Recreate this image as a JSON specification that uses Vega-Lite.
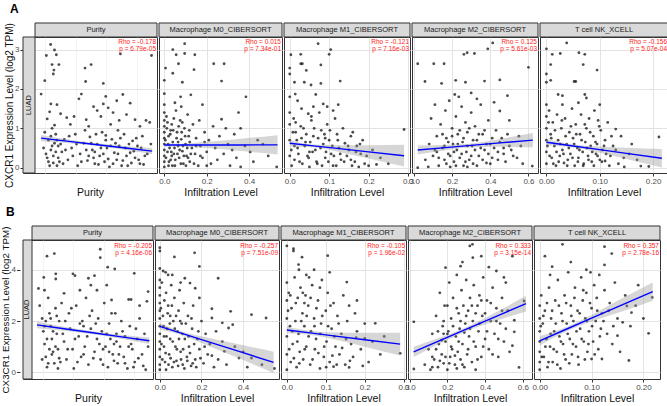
{
  "$schema": "https://vega.github.io/schema/vega-lite/v6.json",
  "background": "white",
  "padding": {"left": 0, "top": 2, "right": 0, "bottom": 0},
  "config": {
    "font": "Liberation Sans",
    "view": {"stroke": "#333333", "strokeWidth": 1},
    "axis": {"domain": false, "labelFontSize": 8, "labelColor": "#4d4d4d", "labelPadding": 1, "tickColor": "#333333", "tickSize": 3, "titleFontSize": 10.5, "titleFontWeight": "normal", "titleColor": "#111111", "titlePadding": 2, "labelFlush": false, "labelOverlap": false, "gridColor": "#e5e5e5"},
    "title": {"anchor": "start", "fontSize": 12, "fontWeight": "bold", "color": "#000000", "dx": 6}
  },
  "datasets": {
    "a1": [{"x":0.168,"y":3.13},{"x":0.133,"y":2.85},{"x":0.2,"y":2.99},{"x":0.215,"y":2.87},{"x":0.18,"y":2.62},{"x":0.195,"y":2.48},{"x":0.19,"y":2.38},{"x":0.236,"y":2.62},{"x":0.12,"y":2.21},{"x":0.09,"y":1.87},{"x":0.45,"y":2.53},{"x":0.455,"y":2.19},{"x":0.5,"y":2.62},{"x":0.6,"y":2.14},{"x":0.74,"y":2.89},{"x":0.995,"y":2.85},{"x":0.4,"y":1.75},{"x":0.42,"y":1.87},{"x":0.62,"y":1.81},{"x":0.76,"y":1.86},{"x":0.82,"y":1.64},{"x":0.71,"y":1.7},
      {"x":0.17,"y":1.62},{"x":0.22,"y":1.6},{"x":0.16,"y":1.42},{"x":0.14,"y":1.24},{"x":0.25,"y":1.37},{"x":0.3,"y":1.27},{"x":0.36,"y":1.3},{"x":0.46,"y":1.22},{"x":0.52,"y":1.55},{"x":0.55,"y":1.45},{"x":0.58,"y":1.3},{"x":0.64,"y":1.52},{"x":0.68,"y":1.4},{"x":0.73,"y":1.2},{"x":0.79,"y":1.35},{"x":0.86,"y":1.22},{"x":0.95,"y":1.2},{"x":0.98,"y":1.15},{"x":0.9,"y":1.05},{"x":0.66,"y":1.1},{"x":0.33,"y":1.1},{"x":0.2,"y":1.08},{"x":0.18,"y":1.0},{"x":0.6,"y":1.62},{"x":0.48,"y":1.05},
      {"x":0.12,"y":0.9},{"x":0.15,"y":0.7},{"x":0.17,"y":0.45},{"x":0.19,"y":0.3},{"x":0.21,"y":0.85},{"x":0.23,"y":0.55},{"x":0.24,"y":0.15},{"x":0.26,"y":0.4},{"x":0.16,"y":0.05},{"x":0.14,"y":0.25},{"x":0.2,"y":0.62},{"x":0.28,"y":0.72},{"x":0.31,"y":0.2},{"x":0.34,"y":0.5},{"x":0.37,"y":0.85},{"x":0.39,"y":0.05},{"x":0.41,"y":0.35},{"x":0.44,"y":0.62},{"x":0.47,"y":0.18},{"x":0.49,"y":0.78},{"x":0.51,"y":0.45},{"x":0.53,"y":0.1},{"x":0.55,"y":0.6},{"x":0.57,"y":0.3},{"x":0.59,"y":0.9},{"x":0.61,"y":0.15},{"x":0.63,"y":0.5},{"x":0.65,"y":0.02},{"x":0.67,"y":0.72},{"x":0.69,"y":0.38},{"x":0.71,"y":0.2},{"x":0.73,"y":0.55},{"x":0.75,"y":0.05},{"x":0.77,"y":0.85},{"x":0.79,"y":0.3},{"x":0.81,"y":0.6},{"x":0.83,"y":0.12},{"x":0.85,"y":0.42},{"x":0.87,"y":0.75},{"x":0.89,"y":0.2},{"x":0.91,"y":0.5},{"x":0.93,"y":0.08},{"x":0.96,"y":0.35},{"x":0.99,"y":0.6},{"x":0.11,"y":0.5},{"x":0.22,"y":0.05},{"x":0.45,"y":0.95},{"x":0.62,"y":0.82},{"x":0.72,"y":0.95},{"x":0.52,"y":0.25},
      {"x":0.13,"y":0.35},{"x":0.15,"y":0.15},{"x":0.17,"y":0.8},{"x":0.18,"y":0.55},{"x":0.19,"y":0.12},{"x":0.21,"y":0.4},{"x":0.22,"y":0.7},{"x":0.23,"y":0.25},{"x":0.25,"y":0.6},{"x":0.27,"y":0.1},{"x":0.29,"y":0.45},{"x":0.32,"y":0.8},{"x":0.35,"y":0.3},{"x":0.38,"y":0.6},{"x":0.42,"y":0.15},{"x":0.46,"y":0.45},{"x":0.48,"y":0.3},{"x":0.5,"y":0.62},{"x":0.53,"y":0.4},{"x":0.54,"y":0.85},{"x":0.56,"y":0.08},{"x":0.58,"y":0.5},{"x":0.6,"y":0.35},{"x":0.62,"y":0.7},{"x":0.64,"y":0.22},{"x":0.66,"y":0.55},{"x":0.68,"y":0.1},{"x":0.7,"y":0.62},{"x":0.72,"y":0.35},{"x":0.74,"y":0.75},{"x":0.76,"y":0.18},{"x":0.78,"y":0.5},{"x":0.8,"y":0.05},{"x":0.82,"y":0.38},{"x":0.84,"y":0.68},{"x":0.86,"y":0.25},{"x":0.88,"y":0.55},{"x":0.9,"y":0.1},{"x":0.92,"y":0.8},{"x":0.94,"y":0.3}],
    "a2": [{"x":0.096,"y":3.15},{"x":0.04,"y":3.0},{"x":0.056,"y":2.87},{"x":0.096,"y":2.9},{"x":0.144,"y":2.87},{"x":0.067,"y":2.64},{"x":0.006,"y":2.53},{"x":0.04,"y":2.4},{"x":0.085,"y":2.17},{"x":0.0,"y":2.22},{"x":0.14,"y":2.49},{"x":0.233,"y":2.64},{"x":0.282,"y":2.64},{"x":0.27,"y":2.2},{"x":0.385,"y":1.8},{"x":0.0,"y":1.88},{"x":0.077,"y":1.8},{"x":0.125,"y":1.85},{"x":0.18,"y":1.6},{"x":0.35,"y":1.4},{"x":0.27,"y":1.23},{"x":0.36,"y":1.0},{"x":0.29,"y":1.0},{"x":0.33,"y":0.85},{"x":0.465,"y":0.6},{"x":0.49,"y":0.3},{"x":0.53,"y":0.02},{"x":0.405,"y":0.4},{"x":0.36,"y":0.02},
      {"x":0,"y":1.6},{"x":0,"y":1.4},{"x":0,"y":1.2},{"x":0,"y":1.05},{"x":0,"y":0.9},{"x":0,"y":0.75},{"x":0,"y":0.6},{"x":0,"y":0.45},{"x":0,"y":0.3},{"x":0,"y":0.15},{"x":0,"y":0.02},
      {"x":0.01,"y":1.3},{"x":0.02,"y":0.8},{"x":0.025,"y":0.5},{"x":0.03,"y":0.2},{"x":0.035,"y":1.1},{"x":0.04,"y":0.65},{"x":0.045,"y":0.35},{"x":0.05,"y":0.05},{"x":0.055,"y":1.45},{"x":0.06,"y":0.9},{"x":0.065,"y":0.55},{"x":0.07,"y":0.25},{"x":0.075,"y":1.2},{"x":0.08,"y":0.72},{"x":0.085,"y":0.42},{"x":0.09,"y":0.1},{"x":0.095,"y":1.0},{"x":0.1,"y":0.6},{"x":0.105,"y":0.3},{"x":0.11,"y":1.35},{"x":0.115,"y":0.8},{"x":0.12,"y":0.15},{"x":0.13,"y":0.5},{"x":0.135,"y":1.1},{"x":0.145,"y":0.35},{"x":0.15,"y":0.75},{"x":0.16,"y":0.05},{"x":0.165,"y":1.2},{"x":0.17,"y":0.55},{"x":0.18,"y":0.25},{"x":0.19,"y":0.9},{"x":0.2,"y":0.4},{"x":0.21,"y":0.7},{"x":0.22,"y":0.1},{"x":0.23,"y":1.05},{"x":0.24,"y":0.5},{"x":0.25,"y":0.2},{"x":0.26,"y":0.8},{"x":0.28,"y":0.35},{"x":0.3,"y":0.6},{"x":0.31,"y":0.05},{"x":0.32,"y":0.45},{"x":0.34,"y":0.25},{"x":0.38,"y":0.55},{"x":0.42,"y":0.15},{"x":0.44,"y":0.7},{"x":0.015,"y":0.4},{"x":0.05,"y":1.65},{"x":0.03,"y":0.95},{"x":0.12,"y":0.65},{"x":0.08,"y":1.55},{"x":0.02,"y":0.05},
      {"x":0.005,"y":0.7},{"x":0.008,"y":0.25},{"x":0.012,"y":1.0},{"x":0.018,"y":0.6},{"x":0.022,"y":0.15},{"x":0.028,"y":0.85},{"x":0.033,"y":0.4},{"x":0.038,"y":0.05},{"x":0.042,"y":0.95},{"x":0.048,"y":0.5},{"x":0.052,"y":0.2},{"x":0.058,"y":0.75},{"x":0.062,"y":0.35},{"x":0.068,"y":1.05},{"x":0.072,"y":0.45},{"x":0.078,"y":0.1},{"x":0.082,"y":0.9},{"x":0.088,"y":0.55},{"x":0.092,"y":0.3},{"x":0.098,"y":0.8},{"x":0.102,"y":0.05},{"x":0.108,"y":0.5},{"x":0.112,"y":0.25},{"x":0.118,"y":0.95},{"x":0.125,"y":0.35},{"x":0.14,"y":0.1},{"x":0.15,"y":0.55},{"x":0.17,"y":0.3},{"x":0.19,"y":0.65},{"x":0.2,"y":0.05},{"x":0.015,"y":1.15},{"x":0.045,"y":1.25},{"x":0.065,"y":0.65},{"x":0.085,"y":1.15},{"x":0.035,"y":0.3}],
    "a3": [{"x":0.072,"y":3.15},{"x":0.104,"y":3.0},{"x":0.1,"y":2.88},{"x":0.003,"y":2.87},{"x":0.028,"y":2.88},{"x":0.0,"y":2.53},{"x":0.0,"y":2.38},{"x":0.028,"y":2.64},{"x":0.032,"y":2.64},{"x":0.042,"y":2.47},{"x":0.079,"y":2.61},{"x":0.012,"y":2.17},{"x":0.037,"y":2.17},{"x":0.054,"y":2.1},{"x":0.079,"y":2.14},{"x":0.128,"y":2.2},{"x":0.0,"y":1.8},{"x":0.014,"y":1.87},{"x":0.066,"y":1.86},{"x":0.085,"y":1.62},{"x":0.123,"y":1.6},{"x":0.047,"y":1.37},{"x":0.155,"y":0.8},{"x":0.29,"y":0.97},{"x":0.2,"y":0.05},{"x":0.22,"y":0.08},{"x":0.15,"y":0.45},
      {"x":0.0,"y":1.4},{"x":0.0,"y":1.1},{"x":0.0,"y":0.7},{"x":0.0,"y":0.3},{"x":0.005,"y":0.05},{"x":0.01,"y":1.25},{"x":0.015,"y":0.9},{"x":0.02,"y":0.5},{"x":0.025,"y":0.15},{"x":0.03,"y":1.5},{"x":0.035,"y":1.0},{"x":0.04,"y":0.65},{"x":0.045,"y":0.3},{"x":0.05,"y":0.02},{"x":0.055,"y":1.2},{"x":0.06,"y":0.8},{"x":0.065,"y":0.45},{"x":0.07,"y":0.1},{"x":0.075,"y":1.4},{"x":0.08,"y":0.95},{"x":0.085,"y":0.6},{"x":0.09,"y":0.25},{"x":0.095,"y":1.1},{"x":0.1,"y":0.7},{"x":0.105,"y":0.35},{"x":0.11,"y":0.05},{"x":0.115,"y":1.25},{"x":0.12,"y":0.85},{"x":0.125,"y":0.5},{"x":0.13,"y":0.2},{"x":0.135,"y":1.0},{"x":0.14,"y":0.62},{"x":0.145,"y":0.3},{"x":0.16,"y":0.9},{"x":0.165,"y":0.15},{"x":0.17,"y":0.55},{"x":0.18,"y":0.35},{"x":0.185,"y":0.7},{"x":0.19,"y":0.1},{"x":0.21,"y":0.45},{"x":0.23,"y":0.25},{"x":0.25,"y":0.1},{"x":0.02,"y":1.7},{"x":0.06,"y":1.55},{"x":0.095,"y":1.55},{"x":0.11,"y":1.45},{"x":0.05,"y":0.4},{"x":0.03,"y":0.75},{"x":0.155,"y":0.2},{"x":0.175,"y":0.02},{"x":0.012,"y":0.55},
      {"x":0.004,"y":0.45},{"x":0.008,"y":0.9},{"x":0.012,"y":0.2},{"x":0.018,"y":0.7},{"x":0.022,"y":0.35},{"x":0.028,"y":1.05},{"x":0.032,"y":0.1},{"x":0.038,"y":0.55},{"x":0.042,"y":0.85},{"x":0.048,"y":0.25},{"x":0.052,"y":0.65},{"x":0.058,"y":0.4},{"x":0.062,"y":1.0},{"x":0.068,"y":0.15},{"x":0.072,"y":0.75},{"x":0.078,"y":0.5},{"x":0.082,"y":0.05},{"x":0.088,"y":0.85},{"x":0.092,"y":0.4},{"x":0.098,"y":0.15},{"x":0.102,"y":0.95},{"x":0.108,"y":0.55},{"x":0.112,"y":0.3},{"x":0.118,"y":0.05},{"x":0.122,"y":0.7},{"x":0.128,"y":0.35},{"x":0.138,"y":0.15},{"x":0.148,"y":0.55},{"x":0.158,"y":0.05},{"x":0.168,"y":0.4},{"x":0.178,"y":0.6},{"x":0.195,"y":0.3},{"x":0.015,"y":1.15},{"x":0.055,"y":1.3},{"x":0.09,"y":0.75}],
    "a4": [{"x":0.413,"y":3.17},{"x":0.387,"y":3.02},{"x":0.262,"y":2.88},{"x":0.279,"y":2.92},{"x":0.317,"y":2.9},{"x":0.02,"y":2.64},{"x":0.104,"y":2.64},{"x":0.158,"y":2.64},{"x":0.6,"y":2.55},{"x":0.058,"y":2.19},{"x":0.145,"y":2.14},{"x":0.219,"y":2.22},{"x":0.27,"y":2.17},{"x":0.37,"y":2.2},{"x":0.45,"y":2.23},{"x":0.214,"y":1.86},{"x":0.42,"y":1.66},{"x":0.49,"y":1.83},{"x":0.5,"y":1.2},{"x":0.45,"y":1.44},{"x":0.62,"y":0.04},{"x":0.02,"y":0.0},{"x":0.075,"y":0.02},{"x":0.47,"y":0.5},
      {"x":0.1,"y":0.3},{"x":0.12,"y":0.8},{"x":0.13,"y":0.05},{"x":0.14,"y":1.1},{"x":0.15,"y":0.5},{"x":0.16,"y":0.2},{"x":0.165,"y":1.45},{"x":0.17,"y":0.75},{"x":0.18,"y":0.35},{"x":0.19,"y":0.02},{"x":0.2,"y":1.0},{"x":0.205,"y":0.6},{"x":0.21,"y":0.15},{"x":0.22,"y":1.3},{"x":0.225,"y":0.45},{"x":0.23,"y":0.85},{"x":0.24,"y":0.25},{"x":0.25,"y":1.55},{"x":0.255,"y":0.65},{"x":0.26,"y":0.05},{"x":0.27,"y":1.15},{"x":0.275,"y":0.4},{"x":0.28,"y":0.9},{"x":0.29,"y":0.2},{"x":0.3,"y":1.4},{"x":0.305,"y":0.55},{"x":0.31,"y":0.1},{"x":0.32,"y":1.05},{"x":0.33,"y":0.7},{"x":0.34,"y":0.3},{"x":0.35,"y":1.6},{"x":0.36,"y":0.85},{"x":0.37,"y":0.45},{"x":0.38,"y":0.12},{"x":0.39,"y":1.2},{"x":0.4,"y":0.6},{"x":0.41,"y":0.25},{"x":0.43,"y":0.95},{"x":0.44,"y":0.4},{"x":0.46,"y":0.75},{"x":0.48,"y":0.15},{"x":0.5,"y":0.55},{"x":0.52,"y":0.3},{"x":0.55,"y":0.8},{"x":0.57,"y":0.1},{"x":0.08,"y":0.6},{"x":0.06,"y":0.2},{"x":0.09,"y":1.25},{"x":0.11,"y":1.6},{"x":0.185,"y":1.7},{"x":0.235,"y":1.8},{"x":0.3,"y":1.9},{"x":0.33,"y":1.75},{"x":0.12,"y":0.4},{"x":0.28,"y":0.02},
      {"x":0.11,"y":0.45},{"x":0.13,"y":0.25},{"x":0.15,"y":0.85},{"x":0.16,"y":0.55},{"x":0.17,"y":0.1},{"x":0.18,"y":0.65},{"x":0.19,"y":0.3},{"x":0.2,"y":0.8},{"x":0.21,"y":0.4},{"x":0.22,"y":0.05},{"x":0.23,"y":0.6},{"x":0.24,"y":0.95},{"x":0.25,"y":0.35},{"x":0.26,"y":0.75},{"x":0.27,"y":0.15},{"x":0.28,"y":0.55},{"x":0.29,"y":1.0},{"x":0.3,"y":0.3},{"x":0.31,"y":0.7},{"x":0.32,"y":0.45},{"x":0.33,"y":0.05},{"x":0.34,"y":0.85},{"x":0.35,"y":0.5},{"x":0.36,"y":0.2},{"x":0.37,"y":0.95},{"x":0.38,"y":0.6},{"x":0.39,"y":0.35},{"x":0.4,"y":0.1},{"x":0.41,"y":0.75},{"x":0.42,"y":0.5},{"x":0.44,"y":0.2},{"x":0.45,"y":0.65},{"x":0.47,"y":0.35},{"x":0.49,"y":0.85},{"x":0.51,"y":0.45},{"x":0.54,"y":0.25},{"x":0.56,"y":0.55}],
    "a5": [{"x":0.038,"y":3.17},{"x":0.0,"y":3.02},{"x":0.061,"y":2.92},{"x":0.026,"y":2.9},{"x":0.011,"y":2.88},{"x":0.072,"y":2.88},{"x":0.069,"y":2.62},{"x":0.008,"y":2.62},{"x":0.0,"y":2.38},{"x":0.095,"y":2.48},{"x":0.0,"y":2.17},{"x":0.008,"y":2.22},{"x":0.052,"y":2.19},{"x":0.055,"y":2.19},{"x":0.022,"y":1.86},{"x":0.03,"y":1.83},{"x":0.072,"y":1.86},{"x":0.075,"y":1.77},{"x":0.097,"y":1.2},{"x":0.13,"y":0.98},{"x":0.211,"y":0.78},{"x":0.146,"y":0.02},{"x":0.177,"y":0.04},{"x":0.192,"y":0.03},{"x":0.11,"y":0.17},
      {"x":0.0,"y":1.6},{"x":0.0,"y":1.3},{"x":0.0,"y":1.0},{"x":0.0,"y":0.7},{"x":0.0,"y":0.4},{"x":0.0,"y":0.1},{"x":0.005,"y":1.45},{"x":0.008,"y":0.85},{"x":0.01,"y":0.25},{"x":0.012,"y":1.15},{"x":0.015,"y":0.55},{"x":0.018,"y":0.05},{"x":0.02,"y":1.35},{"x":0.022,"y":0.7},{"x":0.025,"y":0.3},{"x":0.028,"y":1.0},{"x":0.03,"y":0.45},{"x":0.033,"y":0.12},{"x":0.035,"y":1.25},{"x":0.038,"y":0.6},{"x":0.04,"y":0.2},{"x":0.043,"y":0.9},{"x":0.045,"y":0.35},{"x":0.048,"y":1.5},{"x":0.05,"y":0.75},{"x":0.053,"y":0.05},{"x":0.055,"y":1.1},{"x":0.058,"y":0.5},{"x":0.06,"y":0.25},{"x":0.063,"y":0.85},{"x":0.065,"y":1.35},{"x":0.068,"y":0.4},{"x":0.07,"y":0.1},{"x":0.073,"y":0.65},{"x":0.075,"y":1.0},{"x":0.078,"y":0.3},{"x":0.08,"y":1.25},{"x":0.083,"y":0.55},{"x":0.085,"y":0.15},{"x":0.088,"y":0.8},{"x":0.09,"y":1.45},{"x":0.093,"y":0.35},{"x":0.095,"y":0.6},{"x":0.1,"y":0.2},{"x":0.102,"y":0.95},{"x":0.105,"y":0.45},{"x":0.11,"y":0.7},{"x":0.115,"y":1.15},{"x":0.12,"y":0.3},{"x":0.125,"y":0.55},{"x":0.135,"y":0.1},{"x":0.14,"y":0.8},{"x":0.155,"y":0.35},{"x":0.16,"y":0.6},{"x":0.17,"y":0.2},{"x":0.03,"y":1.6},{"x":0.06,"y":1.65},{"x":0.1,"y":1.6},
      {"x":0.002,"y":0.55},{"x":0.004,"y":1.15},{"x":0.006,"y":0.3},{"x":0.009,"y":0.75},{"x":0.013,"y":0.1},{"x":0.016,"y":0.95},{"x":0.019,"y":0.4},{"x":0.023,"y":0.15},{"x":0.026,"y":0.6},{"x":0.029,"y":1.2},{"x":0.032,"y":0.35},{"x":0.036,"y":0.8},{"x":0.039,"y":0.05},{"x":0.042,"y":0.5},{"x":0.046,"y":1.05},{"x":0.049,"y":0.25},{"x":0.052,"y":0.6},{"x":0.056,"y":0.85},{"x":0.059,"y":0.15},{"x":0.062,"y":0.45},{"x":0.066,"y":0.7},{"x":0.069,"y":0.05},{"x":0.072,"y":1.1},{"x":0.076,"y":0.5},{"x":0.079,"y":0.2},{"x":0.082,"y":0.9},{"x":0.086,"y":0.4},{"x":0.089,"y":0.05},{"x":0.092,"y":0.65},{"x":0.096,"y":0.3},{"x":0.099,"y":1.05},{"x":0.104,"y":0.15},{"x":0.108,"y":0.55},{"x":0.112,"y":0.35},{"x":0.118,"y":0.05},{"x":0.122,"y":0.8},{"x":0.13,"y":0.45},{"x":0.145,"y":0.25}],
    "b1": [{"x":0.597,"y":4.8},{"x":0.597,"y":4.47},{"x":0.16,"y":4.53},{"x":0.22,"y":4.63},{"x":0.876,"y":3.86},{"x":0.658,"y":4.1},{"x":0.716,"y":4.03},{"x":0.373,"y":3.84},{"x":0.39,"y":3.77},{"x":0.232,"y":3.84},{"x":0.232,"y":3.64},{"x":0.134,"y":3.7},{"x":0.14,"y":3.2},{"x":0.09,"y":3.27},{"x":0.3,"y":3.08},{"x":0.43,"y":3.2},{"x":0.52,"y":3.4},{"x":0.57,"y":3.2},{"x":0.65,"y":3.4},{"x":0.69,"y":2.82},{"x":0.83,"y":2.84},{"x":0.85,"y":2.84},{"x":0.92,"y":2.6},{"x":0.99,"y":3.15},{"x":0.98,"y":2.77},{"x":0.5,"y":3.67},{"x":0.55,"y":3.77},{"x":0.97,"y":0.1},
      {"x":0.1,"y":2.6},{"x":0.12,"y":2.1},{"x":0.13,"y":1.6},{"x":0.14,"y":1.1},{"x":0.15,"y":0.6},{"x":0.16,"y":0.2},{"x":0.17,"y":2.9},{"x":0.18,"y":2.3},{"x":0.19,"y":1.8},{"x":0.2,"y":1.3},{"x":0.21,"y":0.8},{"x":0.22,"y":0.35},{"x":0.23,"y":2.5},{"x":0.24,"y":1.5},{"x":0.25,"y":0.9},{"x":0.26,"y":2.0},{"x":0.28,"y":2.7},{"x":0.3,"y":1.2},{"x":0.32,"y":0.5},{"x":0.34,"y":2.3},{"x":0.35,"y":1.7},{"x":0.37,"y":0.9},{"x":0.38,"y":0.15},{"x":0.4,"y":2.6},{"x":0.42,"y":1.4},{"x":0.44,"y":0.6},{"x":0.45,"y":2.0},{"x":0.47,"y":1.0},{"x":0.48,"y":2.9},{"x":0.5,"y":0.3},{"x":0.52,"y":1.7},{"x":0.53,"y":2.4},{"x":0.55,"y":0.8},{"x":0.57,"y":1.3},{"x":0.58,"y":2.1},{"x":0.6,"y":0.5},{"x":0.61,"y":1.6},{"x":0.63,"y":2.7},{"x":0.64,"y":1.0},{"x":0.66,"y":0.2},{"x":0.67,"y":1.9},{"x":0.68,"y":1.3},{"x":0.7,"y":0.7},{"x":0.72,"y":2.3},{"x":0.73,"y":1.5},{"x":0.74,"y":0.35},{"x":0.76,"y":1.0},{"x":0.77,"y":2.0},{"x":0.79,"y":0.6},{"x":0.8,"y":1.4},{"x":0.82,"y":0.15},{"x":0.84,"y":1.8},{"x":0.86,"y":0.9},{"x":0.88,"y":0.4},{"x":0.9,"y":1.3},{"x":0.92,"y":2.1},{"x":0.94,"y":0.7},{"x":0.96,"y":1.5},{"x":0.99,"y":1.0},{"x":0.18,"y":0.9},{"x":0.27,"y":0.4},{"x":0.62,"y":0.9},{"x":0.71,"y":1.1},{"x":0.36,"y":2.5},{"x":0.46,"y":1.8},{"x":0.15,"y":2.0},{"x":0.25,"y":0.15},{"x":0.85,"y":1.1},
      {"x":0.12,"y":0.5},{"x":0.14,"y":1.8},{"x":0.16,"y":1.3},{"x":0.17,"y":0.35},{"x":0.19,"y":2.1},{"x":0.2,"y":0.7},{"x":0.21,"y":1.6},{"x":0.23,"y":1.0},{"x":0.24,"y":2.2},{"x":0.26,"y":0.55},{"x":0.29,"y":1.5},{"x":0.31,"y":2.0},{"x":0.33,"y":0.9},{"x":0.39,"y":1.3},{"x":0.41,"y":0.4},{"x":0.43,"y":1.9},{"x":0.46,"y":0.7},{"x":0.49,"y":1.4},{"x":0.51,"y":2.2},{"x":0.54,"y":0.55},{"x":0.56,"y":1.9},{"x":0.59,"y":1.1},{"x":0.62,"y":0.3},{"x":0.65,"y":1.5},{"x":0.67,"y":0.8},{"x":0.69,"y":2.3},{"x":0.71,"y":0.45},{"x":0.73,"y":1.2},{"x":0.75,"y":0.7},{"x":0.78,"y":1.6},{"x":0.8,"y":0.35},{"x":0.83,"y":1.0},{"x":0.87,"y":0.2},{"x":0.89,"y":1.7},{"x":0.91,"y":0.55},{"x":0.95,"y":0.25}],
    "b2": [{"x":0,"y":4.86},{"x":0,"y":4.73},{"x":0.167,"y":4.66},{"x":0.07,"y":4.5},{"x":0.19,"y":4.13},{"x":0.28,"y":3.67},{"x":0,"y":4.05},{"x":0.016,"y":3.95},{"x":0.028,"y":3.9},{"x":0.04,"y":3.8},{"x":0.12,"y":3.67},{"x":0.145,"y":3.48},{"x":0.17,"y":3.28},{"x":0.19,"y":2.9},{"x":0.25,"y":2.48},{"x":0.34,"y":2.38},{"x":0.44,"y":2.25},{"x":0.51,"y":2.12},{"x":0.25,"y":2.12},{"x":0.3,"y":1.93},{"x":0.33,"y":1.73},{"x":0.35,"y":1.86},{"x":0.55,"y":0.15},{"x":0.49,"y":0.3},{"x":0.44,"y":0.56},{"x":0.38,"y":0.56},{"x":0.31,"y":0.82},
      {"x":0,"y":3.6},{"x":0,"y":3.3},{"x":0,"y":3.0},{"x":0,"y":2.7},{"x":0,"y":2.4},{"x":0,"y":2.1},{"x":0,"y":1.8},{"x":0,"y":1.5},{"x":0,"y":1.2},{"x":0,"y":0.9},{"x":0,"y":0.6},{"x":0,"y":0.3},{"x":0,"y":0.1},
      {"x":0.01,"y":3.5},{"x":0.015,"y":2.2},{"x":0.02,"y":1.0},{"x":0.025,"y":0.4},{"x":0.03,"y":3.1},{"x":0.035,"y":1.7},{"x":0.04,"y":2.6},{"x":0.045,"y":0.7},{"x":0.05,"y":1.3},{"x":0.055,"y":3.4},{"x":0.06,"y":0.2},{"x":0.065,"y":2.0},{"x":0.07,"y":2.9},{"x":0.075,"y":1.0},{"x":0.08,"y":0.45},{"x":0.085,"y":1.6},{"x":0.09,"y":2.4},{"x":0.095,"y":3.2},{"x":0.1,"y":0.8},{"x":0.105,"y":1.9},{"x":0.11,"y":0.3},{"x":0.115,"y":2.7},{"x":0.12,"y":1.3},{"x":0.13,"y":0.6},{"x":0.135,"y":2.2},{"x":0.14,"y":1.0},{"x":0.15,"y":0.25},{"x":0.155,"y":1.7},{"x":0.16,"y":2.6},{"x":0.17,"y":0.5},{"x":0.18,"y":1.3},{"x":0.19,"y":0.9},{"x":0.2,"y":2.0},{"x":0.21,"y":0.35},{"x":0.22,"y":1.5},{"x":0.23,"y":0.7},{"x":0.24,"y":1.1},{"x":0.26,"y":0.2},{"x":0.27,"y":1.6},{"x":0.28,"y":0.5},{"x":0.3,"y":1.2},{"x":0.32,"y":0.3},{"x":0.36,"y":1.0},{"x":0.4,"y":0.8},{"x":0.42,"y":0.2},{"x":0.05,"y":2.2},{"x":0.02,"y":1.4},{"x":0.03,"y":0.1},{"x":0.06,"y":3.8},{"x":0.1,"y":3.5},
      {"x":0.005,"y":2.5},{"x":0.008,"y":1.1},{"x":0.012,"y":0.5},{"x":0.018,"y":1.8},{"x":0.022,"y":2.8},{"x":0.028,"y":0.75},{"x":0.032,"y":1.4},{"x":0.038,"y":2.3},{"x":0.042,"y":0.3},{"x":0.048,"y":1.9},{"x":0.052,"y":0.55},{"x":0.058,"y":2.6},{"x":0.062,"y":1.2},{"x":0.068,"y":0.4},{"x":0.072,"y":1.7},{"x":0.078,"y":2.2},{"x":0.082,"y":0.9},{"x":0.088,"y":0.25},{"x":0.092,"y":1.3},{"x":0.098,"y":2.0},{"x":0.102,"y":0.5},{"x":0.108,"y":1.5},{"x":0.112,"y":0.9},{"x":0.118,"y":0.15},{"x":0.125,"y":1.9},{"x":0.132,"y":0.45},{"x":0.138,"y":1.4},{"x":0.145,"y":0.75},{"x":0.152,"y":2.1},{"x":0.158,"y":0.35},{"x":0.165,"y":1.1},{"x":0.175,"y":0.2},{"x":0.185,"y":1.6},{"x":0.195,"y":0.55},{"x":0.215,"y":1.0},{"x":0.25,"y":0.65}],
    "b3": [{"x":0,"y":4.93},{"x":0.017,"y":4.82},{"x":0.017,"y":4.73},{"x":0.039,"y":4.49},{"x":0.105,"y":4.55},{"x":0.031,"y":4.0},{"x":0.05,"y":3.8},{"x":0.057,"y":3.7},{"x":0.154,"y":3.52},{"x":0.18,"y":2.8},{"x":0.16,"y":2.6},{"x":0.227,"y":1.91},{"x":0.291,"y":0.74},{"x":0.2,"y":1.32},{"x":0.16,"y":0.19},{"x":0.12,"y":0.22},{"x":0.18,"y":1.6},
      {"x":0,"y":3.5},{"x":0,"y":2.8},{"x":0,"y":2.1},{"x":0,"y":1.4},{"x":0,"y":0.7},{"x":0,"y":0.1},{"x":0.005,"y":3.1},{"x":0.008,"y":1.8},{"x":0.01,"y":0.4},{"x":0.012,"y":2.5},{"x":0.015,"y":1.1},{"x":0.02,"y":3.7},{"x":0.022,"y":2.0},{"x":0.025,"y":0.2},{"x":0.028,"y":2.9},{"x":0.03,"y":1.5},{"x":0.033,"y":0.8},{"x":0.035,"y":3.3},{"x":0.04,"y":2.3},{"x":0.042,"y":0.5},{"x":0.045,"y":1.8},{"x":0.048,"y":3.0},{"x":0.05,"y":1.0},{"x":0.055,"y":2.6},{"x":0.06,"y":0.3},{"x":0.062,"y":1.6},{"x":0.065,"y":3.4},{"x":0.07,"y":2.1},{"x":0.072,"y":0.9},{"x":0.075,"y":1.3},{"x":0.08,"y":2.8},{"x":0.085,"y":0.15},{"x":0.088,"y":1.9},{"x":0.09,"y":3.6},{"x":0.095,"y":0.6},{"x":0.1,"y":2.4},{"x":0.102,"y":1.2},{"x":0.105,"y":3.1},{"x":0.11,"y":0.4},{"x":0.115,"y":1.7},{"x":0.12,"y":2.7},{"x":0.125,"y":1.0},{"x":0.13,"y":2.2},{"x":0.135,"y":0.7},{"x":0.14,"y":1.5},{"x":0.145,"y":3.0},{"x":0.15,"y":0.3},{"x":0.155,"y":2.0},{"x":0.165,"y":1.1},{"x":0.17,"y":0.6},{"x":0.175,"y":2.3},{"x":0.19,"y":0.9},{"x":0.2,"y":1.9},{"x":0.21,"y":0.4},{"x":0.22,"y":1.2},{"x":0.24,"y":0.7},{"x":0.25,"y":1.4},{"x":0.07,"y":4.0},{"x":0.03,"y":4.2},{"x":0.11,"y":3.9},{"x":0.085,"y":3.3},{"x":0.045,"y":2.7},
      {"x":0.003,"y":2.4},{"x":0.006,"y":0.9},{"x":0.009,"y":3.0},{"x":0.014,"y":1.6},{"x":0.018,"y":0.55},{"x":0.023,"y":2.7},{"x":0.027,"y":1.2},{"x":0.032,"y":0.35},{"x":0.037,"y":2.0},{"x":0.041,"y":3.1},{"x":0.046,"y":0.9},{"x":0.051,"y":2.2},{"x":0.056,"y":1.4},{"x":0.061,"y":2.9},{"x":0.066,"y":0.5},{"x":0.071,"y":1.8},{"x":0.076,"y":2.5},{"x":0.081,"y":0.75},{"x":0.086,"y":1.5},{"x":0.091,"y":2.2},{"x":0.096,"y":1.0},{"x":0.101,"y":0.2},{"x":0.106,"y":1.8},{"x":0.112,"y":2.6},{"x":0.117,"y":0.65},{"x":0.122,"y":1.4},{"x":0.128,"y":0.3},{"x":0.133,"y":1.9},{"x":0.142,"y":0.95},{"x":0.152,"y":1.3},{"x":0.162,"y":0.45},{"x":0.178,"y":1.35},{"x":0.195,"y":0.25}],
    "b4": [{"x":0.319,"y":4.93},{"x":0.333,"y":4.99},{"x":0.38,"y":4.53},{"x":0.335,"y":4.47},{"x":0.545,"y":4.53},{"x":0.19,"y":4.08},{"x":0.27,"y":4.14},{"x":0.46,"y":3.95},{"x":0.5,"y":3.7},{"x":0.51,"y":3.5},{"x":0.022,"y":1.97},{"x":0.022,"y":0.13},{"x":0.555,"y":2.03},{"x":0.555,"y":1.58},{"x":0.545,"y":1.04},{"x":0.58,"y":0.19},{"x":0.607,"y":2.78},
      {"x":0.08,"y":0.3},{"x":0.1,"y":0.9},{"x":0.11,"y":0.1},{"x":0.12,"y":1.5},{"x":0.13,"y":0.5},{"x":0.14,"y":2.2},{"x":0.15,"y":0.2},{"x":0.155,"y":1.1},{"x":0.16,"y":3.1},{"x":0.17,"y":0.7},{"x":0.175,"y":1.8},{"x":0.18,"y":0.35},{"x":0.185,"y":2.6},{"x":0.19,"y":1.2},{"x":0.2,"y":0.1},{"x":0.205,"y":1.6},{"x":0.21,"y":3.5},{"x":0.215,"y":0.6},{"x":0.22,"y":2.1},{"x":0.225,"y":0.9},{"x":0.23,"y":2.9},{"x":0.24,"y":0.3},{"x":0.245,"y":1.4},{"x":0.25,"y":3.8},{"x":0.255,"y":0.8},{"x":0.26,"y":2.3},{"x":0.265,"y":1.7},{"x":0.27,"y":0.5},{"x":0.275,"y":3.2},{"x":0.28,"y":1.1},{"x":0.285,"y":2.6},{"x":0.29,"y":0.2},{"x":0.295,"y":1.9},{"x":0.3,"y":3.6},{"x":0.305,"y":0.7},{"x":0.31,"y":2.4},{"x":0.315,"y":1.4},{"x":0.32,"y":2.9},{"x":0.33,"y":0.4},{"x":0.335,"y":2.0},{"x":0.34,"y":3.4},{"x":0.35,"y":1.0},{"x":0.36,"y":2.6},{"x":0.365,"y":1.6},{"x":0.37,"y":3.0},{"x":0.38,"y":0.6},{"x":0.385,"y":2.2},{"x":0.39,"y":3.7},{"x":0.4,"y":1.3},{"x":0.41,"y":2.8},{"x":0.42,"y":0.9},{"x":0.43,"y":2.0},{"x":0.44,"y":3.3},{"x":0.45,"y":1.5},{"x":0.46,"y":2.5},{"x":0.47,"y":0.6},{"x":0.48,"y":1.9},{"x":0.49,"y":2.9},{"x":0.5,"y":1.2},{"x":0.52,"y":2.4},{"x":0.53,"y":0.8},{"x":0.42,"y":4.1},{"x":0.28,"y":4.3},{"x":0.2,"y":2.6},{"x":0.12,"y":0.6},{"x":0.18,"y":1.5},{"x":0.25,"y":0.15},{"x":0.35,"y":0.1},
      {"x":0.12,"y":0.2},{"x":0.14,"y":0.9},{"x":0.15,"y":1.6},{"x":0.16,"y":0.45},{"x":0.17,"y":1.25},{"x":0.18,"y":2.0},{"x":0.19,"y":0.6},{"x":0.2,"y":1.5},{"x":0.21,"y":0.35},{"x":0.22,"y":1.0},{"x":0.23,"y":1.8},{"x":0.24,"y":0.65},{"x":0.25,"y":2.5},{"x":0.26,"y":1.2},{"x":0.27,"y":2.0},{"x":0.28,"y":0.3},{"x":0.29,"y":1.55},{"x":0.3,"y":2.2},{"x":0.31,"y":0.9},{"x":0.32,"y":1.7},{"x":0.33,"y":2.6},{"x":0.34,"y":1.2},{"x":0.35,"y":2.3},{"x":0.36,"y":0.5},{"x":0.37,"y":1.9},{"x":0.38,"y":2.8},{"x":0.39,"y":1.0},{"x":0.4,"y":2.3},{"x":0.41,"y":1.6},{"x":0.43,"y":2.7},{"x":0.44,"y":0.7},{"x":0.46,"y":2.0},{"x":0.47,"y":1.3},{"x":0.49,"y":2.4},{"x":0.51,"y":1.7}],
    "b5": [{"x":0.044,"y":4.99},{"x":0.01,"y":4.53},{"x":0.125,"y":4.9},{"x":0.139,"y":4.63},{"x":0.024,"y":4.12},{"x":0.125,"y":4.19},{"x":0.217,"y":2.92},{"x":0.21,"y":1.52},{"x":0.172,"y":0.46},{"x":0.12,"y":0.52},{"x":0.1,"y":0.52},{"x":0.16,"y":1.95},{"x":0.177,"y":2.33},{"x":0.15,"y":1.43},{"x":0.168,"y":2.59},
      {"x":0,"y":2.6},{"x":0,"y":2.1},{"x":0,"y":1.6},{"x":0,"y":1.2},{"x":0,"y":0.8},{"x":0,"y":0.4},{"x":0,"y":0.1},{"x":0.003,"y":3.0},{"x":0.006,"y":1.9},{"x":0.008,"y":0.6},{"x":0.01,"y":2.4},{"x":0.013,"y":1.3},{"x":0.015,"y":0.2},{"x":0.018,"y":3.3},{"x":0.02,"y":1.0},{"x":0.022,"y":2.1},{"x":0.025,"y":0.4},{"x":0.028,"y":1.6},{"x":0.03,"y":2.8},{"x":0.033,"y":0.8},{"x":0.035,"y":3.6},{"x":0.038,"y":1.4},{"x":0.04,"y":0.15},{"x":0.042,"y":2.3},{"x":0.045,"y":1.1},{"x":0.048,"y":3.0},{"x":0.05,"y":0.5},{"x":0.052,"y":1.9},{"x":0.055,"y":3.9},{"x":0.058,"y":1.3},{"x":0.06,"y":2.6},{"x":0.062,"y":0.7},{"x":0.065,"y":2.0},{"x":0.068,"y":3.3},{"x":0.07,"y":1.0},{"x":0.073,"y":2.4},{"x":0.075,"y":0.3},{"x":0.078,"y":1.7},{"x":0.08,"y":3.7},{"x":0.083,"y":2.8},{"x":0.085,"y":1.2},{"x":0.088,"y":2.1},{"x":0.09,"y":3.1},{"x":0.092,"y":0.8},{"x":0.095,"y":1.6},{"x":0.098,"y":3.9},{"x":0.1,"y":2.5},{"x":0.103,"y":1.2},{"x":0.105,"y":3.4},{"x":0.108,"y":2.0},{"x":0.11,"y":2.9},{"x":0.113,"y":0.9},{"x":0.115,"y":3.8},{"x":0.118,"y":1.7},{"x":0.12,"y":2.3},{"x":0.125,"y":3.2},{"x":0.13,"y":1.5},{"x":0.135,"y":2.7},{"x":0.14,"y":1.1},{"x":0.145,"y":3.5},{"x":0.15,"y":2.1},{"x":0.155,"y":0.8},{"x":0.165,"y":3.0},{"x":0.175,"y":1.8},{"x":0.185,"y":2.6},{"x":0.19,"y":3.4},{"x":0.2,"y":2.1},{"x":0.06,"y":4.3},{"x":0.09,"y":4.0},{"x":0.02,"y":3.8},
      {"x":0.002,"y":1.8},{"x":0.004,"y":0.6},{"x":0.007,"y":2.2},{"x":0.011,"y":1.0},{"x":0.014,"y":2.7},{"x":0.017,"y":0.4},{"x":0.021,"y":1.5},{"x":0.024,"y":2.4},{"x":0.027,"y":0.9},{"x":0.031,"y":1.9},{"x":0.034,"y":0.3},{"x":0.037,"y":2.6},{"x":0.041,"y":1.2},{"x":0.044,"y":2.0},{"x":0.047,"y":0.7},{"x":0.051,"y":2.7},{"x":0.054,"y":1.5},{"x":0.057,"y":0.35},{"x":0.061,"y":2.2},{"x":0.064,"y":1.1},{"x":0.067,"y":2.9},{"x":0.071,"y":1.6},{"x":0.074,"y":0.6},{"x":0.077,"y":2.3},{"x":0.081,"y":1.3},{"x":0.084,"y":3.2},{"x":0.087,"y":0.5},{"x":0.091,"y":2.0},{"x":0.094,"y":1.1},{"x":0.097,"y":2.7},{"x":0.101,"y":1.8},{"x":0.106,"y":0.7},{"x":0.111,"y":2.4},{"x":0.116,"y":1.4},{"x":0.123,"y":2.0},{"x":0.133,"y":2.4},{"x":0.142,"y":1.8}],
    "fa1": [{"x":0.09,"y":0.75,"lo":0.67,"hi":0.83},{"x":0.3,"y":0.674,"lo":0.624,"hi":0.724},{"x":0.55,"y":0.583,"lo":0.548,"hi":0.618},{"x":0.8,"y":0.493,"lo":0.443,"hi":0.543},{"x":1.0,"y":0.42,"lo":0.34,"hi":0.5}],
    "fa2": [{"x":0,"y":0.575,"lo":0.53,"hi":0.62},{"x":0.07,"y":0.576,"lo":0.541,"hi":0.611},{"x":0.2,"y":0.577,"lo":0.497,"hi":0.657},{"x":0.35,"y":0.578,"lo":0.428,"hi":0.728},{"x":0.534,"y":0.58,"lo":0.335,"hi":0.825}],
    "fa3": [{"x":0,"y":0.62,"lo":0.54,"hi":0.7},{"x":0.06,"y":0.555,"lo":0.52,"hi":0.59},{"x":0.12,"y":0.49,"lo":0.41,"hi":0.57},{"x":0.2,"y":0.403,"lo":0.233,"hi":0.573},{"x":0.29,"y":0.305,"lo":0.028,"hi":0.582}],
    "fa4": [{"x":0.02,"y":0.45,"lo":0.335,"hi":0.565},{"x":0.15,"y":0.504,"lo":0.429,"hi":0.579},{"x":0.27,"y":0.554,"lo":0.509,"hi":0.599},{"x":0.45,"y":0.629,"lo":0.529,"hi":0.729},{"x":0.623,"y":0.7,"lo":0.52,"hi":0.88}],
    "fa5": [{"x":0,"y":0.645,"lo":0.57,"hi":0.72},{"x":0.05,"y":0.551,"lo":0.511,"hi":0.591},{"x":0.1,"y":0.458,"lo":0.378,"hi":0.538},{"x":0.15,"y":0.364,"lo":0.219,"hi":0.509},{"x":0.2165,"y":0.24,"lo":0.005,"hi":0.475}],
    "fb1": [{"x":0.078,"y":1.85,"lo":1.72,"hi":1.98},{"x":0.3,"y":1.7,"lo":1.62,"hi":1.78},{"x":0.55,"y":1.533,"lo":1.473,"hi":1.593},{"x":0.8,"y":1.365,"lo":1.285,"hi":1.445},{"x":1.0,"y":1.23,"lo":1.1,"hi":1.36}],
    "fb2": [{"x":0,"y":1.79,"lo":1.66,"hi":1.92},{"x":0.08,"y":1.585,"lo":1.515,"hi":1.655},{"x":0.2,"y":1.277,"lo":1.147,"hi":1.407},{"x":0.35,"y":0.893,"lo":0.643,"hi":1.143},{"x":0.546,"y":0.39,"lo":-0.025,"hi":0.805}],
    "fb3": [{"x":0,"y":1.65,"lo":1.52,"hi":1.78},{"x":0.06,"y":1.537,"lo":1.457,"hi":1.617},{"x":0.12,"y":1.423,"lo":1.293,"hi":1.553},{"x":0.2,"y":1.272,"lo":1.002,"hi":1.542},{"x":0.291,"y":1.1,"lo":0.655,"hi":1.545}],
    "fb4": [{"x":0.021,"y":0.8,"lo":0.6,"hi":1.0},{"x":0.15,"y":1.207,"lo":1.087,"hi":1.327},{"x":0.27,"y":1.585,"lo":1.505,"hi":1.665},{"x":0.45,"y":2.153,"lo":1.993,"hi":2.313},{"x":0.617,"y":2.68,"lo":2.375,"hi":2.985}],
    "fb5": [{"x":0,"y":1.23,"lo":1.05,"hi":1.41},{"x":0.05,"y":1.67,"lo":1.58,"hi":1.76},{"x":0.1,"y":2.11,"lo":1.98,"hi":2.24},{"x":0.15,"y":2.55,"lo":2.31,"hi":2.79},{"x":0.218,"y":3.15,"lo":2.795,"hi":3.505}]
  },
  "columns": 1,
  "align": "none",
  "spacing": 7,
  "concat": [
    {
      "title": {"text": "A", "offset": 6},
      "bounds": "flush",
      "spacing": 2,
      "hconcat": [
        {"width": 134, "height": 136, "layer": [
          {"data": {"name": "a1"}, "mark": {"type": "circle", "size": 8, "color": "#000000", "opacity": 0.7},
           "encoding": {
             "x": {"field": "x", "type": "quantitative", "scale": {"domain": [-0.0584, 1.04], "nice": false, "zero": false},
               "axis": {"title": "Purity", "values": [0.125, 0.25, 0.375, 0.5, 0.625, 0.75, 0.875, 1], "format": ".2f",
                 "labelExpr": "indexof([0.25,0.5,0.75,1], datum.value) >= 0 ? datum.label : ''",
                 "tickOpacity": {"condition": {"test": "indexof([0.25,0.5,0.75,1], datum.value) < 0", "value": 0}, "value": 1},
                 "gridColor": {"condition": {"test": "indexof([0.25,0.5,0.75,1], datum.value) < 0", "value": "#f3f3f3"}, "value": "#e3e3e3"}}},
             "y": {"field": "y", "type": "quantitative", "scale": {"domain": [-0.135, 3.32], "nice": false, "zero": false},
               "axis": {"title": "CXCR1 Expression Level (log2 TPM)", "titleFontSize": 10, "values": [0, 0.5, 1, 1.5, 2, 2.5, 3],
                 "labelExpr": "datum.value % 1 == 0 ? datum.label : ''", "minExtent": 0, "maxExtent": 8, "titlePadding": 0.5,
                 "tickOpacity": {"condition": {"test": "datum.value % 1 != 0", "value": 0}, "value": 1},
                 "gridColor": {"condition": {"test": "datum.value % 1 != 0", "value": "#f3f3f3"}, "value": "#e3e3e3"}}}}},
          {"data": {"name": "fa1"}, "mark": {"type": "area", "color": "#999999", "opacity": 0.4, "interpolate": "monotone"}, "encoding": {"x": {"field": "x", "type": "quantitative"}, "y": {"field": "lo", "type": "quantitative"}, "y2": {"field": "hi"}}},
          {"data": {"name": "fa1"}, "mark": {"type": "line", "color": "#0000ff", "strokeWidth": 1.4}, "encoding": {"x": {"field": "x", "type": "quantitative"}, "y": {"field": "y", "type": "quantitative"}}},
          {"data": {"values": [{"t": ["Rho = -0.178", "p = 6.79e-05"]}]}, "mark": {"type": "text", "color": "#ff2020", "fontSize": 6.5, "align": "right", "baseline": "top", "dx": -1, "dy": 2, "lineHeight": 7}, "encoding": {"x": {"datum": 1.04, "type": "quantitative"}, "y": {"datum": 3.32, "type": "quantitative"}, "text": {"field": "t"}}},
          {"data": {"values": [{"t": "LUAD"}]}, "mark": {"type": "rect", "fill": "#d9d9d9", "stroke": "#333333", "strokeWidth": 1}, "encoding": {"x": {"datum": -0.0584, "type": "quantitative"}, "x2": {"datum": 0.04}, "y": {"datum": -0.135, "type": "quantitative"}, "y2": {"datum": 3.32}}},
          {"data": {"values": [{"t": "LUAD"}]}, "mark": {"type": "text", "angle": 270, "fontSize": 7.5, "color": "#1a1a1a"}, "encoding": {"x": {"datum": -0.0092, "type": "quantitative"}, "y": {"datum": 1.59, "type": "quantitative"}, "text": {"field": "t"}}},
          {"data": {"values": [{"t": "Purity"}]}, "mark": {"type": "rect", "fill": "#d9d9d9", "stroke": "#333333", "strokeWidth": 1}, "encoding": {"x": {"datum": 0.04, "type": "quantitative"}, "x2": {"datum": 1.04}, "y": {"datum": 3.32, "type": "quantitative"}, "y2": {"datum": 3.676}}},
          {"data": {"values": [{"t": "Purity"}]}, "mark": {"type": "text", "fontSize": 7.5, "color": "#1a1a1a"}, "encoding": {"x": {"datum": 0.54, "type": "quantitative"}, "y": {"datum": 3.498, "type": "quantitative"}, "text": {"field": "t"}}}
        ]},
        {"width": 123, "height": 136, "layer": [
          {"data": {"name": "a2"}, "mark": {"type": "circle", "size": 8, "color": "#000000", "opacity": 0.7},
           "encoding": {
             "x": {"field": "x", "type": "quantitative", "scale": {"domain": [-0.025, 0.555], "nice": false, "zero": false},
               "axis": {"title": "Infiltration Level", "values": [0, 0.1, 0.2, 0.3, 0.4, 0.5], "format": ".1f",
                 "labelExpr": "indexof([0,0.2,0.4], datum.value) >= 0 ? datum.label : ''",
                 "tickOpacity": {"condition": {"test": "indexof([0,0.2,0.4], datum.value) < 0", "value": 0}, "value": 1},
                 "gridColor": {"condition": {"test": "indexof([0,0.2,0.4], datum.value) < 0", "value": "#f3f3f3"}, "value": "#e3e3e3"}}},
             "y": {"field": "y", "type": "quantitative", "scale": {"domain": [-0.135, 3.32], "nice": false, "zero": false},
               "axis": {"title": null, "labels": false, "ticks": false, "values": [0, 0.5, 1, 1.5, 2, 2.5, 3], "gridColor": {"condition": {"test": "datum.value % 1 != 0", "value": "#f3f3f3"}, "value": "#e3e3e3"}}}}},
          {"data": {"name": "fa2"}, "mark": {"type": "area", "color": "#999999", "opacity": 0.4, "interpolate": "monotone"}, "encoding": {"x": {"field": "x", "type": "quantitative"}, "y": {"field": "lo", "type": "quantitative"}, "y2": {"field": "hi"}}},
          {"data": {"name": "fa2"}, "mark": {"type": "line", "color": "#0000ff", "strokeWidth": 1.4}, "encoding": {"x": {"field": "x", "type": "quantitative"}, "y": {"field": "y", "type": "quantitative"}}},
          {"data": {"values": [{"t": ["Rho = 0.015", "p = 7.34e-01"]}]}, "mark": {"type": "text", "color": "#ff2020", "fontSize": 6.5, "align": "right", "baseline": "top", "dx": -1, "dy": 2, "lineHeight": 7}, "encoding": {"x": {"datum": 0.555, "type": "quantitative"}, "y": {"datum": 3.32, "type": "quantitative"}, "text": {"field": "t"}}},
          {"data": {"values": [{"t": "Macrophage M0_CIBERSORT"}]}, "mark": {"type": "rect", "fill": "#d9d9d9", "stroke": "#333333", "strokeWidth": 1}, "encoding": {"x": {"datum": -0.025, "type": "quantitative"}, "x2": {"datum": 0.555}, "y": {"datum": 3.32, "type": "quantitative"}, "y2": {"datum": 3.676}}},
          {"data": {"values": [{"t": "Macrophage M0_CIBERSORT"}]}, "mark": {"type": "text", "fontSize": 7.5, "color": "#1a1a1a"}, "encoding": {"x": {"datum": 0.265, "type": "quantitative"}, "y": {"datum": 3.498, "type": "quantitative"}, "text": {"field": "t"}}}
        ]},
        {"width": 126, "height": 136, "layer": [
          {"data": {"name": "a3"}, "mark": {"type": "circle", "size": 8, "color": "#000000", "opacity": 0.7},
           "encoding": {
             "x": {"field": "x", "type": "quantitative", "scale": {"domain": [-0.0145, 0.305], "nice": false, "zero": false},
               "axis": {"title": "Infiltration Level", "values": [0, 0.05, 0.1, 0.15, 0.2, 0.25, 0.3], "format": ".1f",
                 "labelExpr": "indexof([0,0.1,0.2,0.3], datum.value) >= 0 ? datum.label : ''",
                 "tickOpacity": {"condition": {"test": "indexof([0,0.1,0.2,0.3], datum.value) < 0", "value": 0}, "value": 1},
                 "gridColor": {"condition": {"test": "indexof([0,0.1,0.2,0.3], datum.value) < 0", "value": "#f3f3f3"}, "value": "#e3e3e3"}}},
             "y": {"field": "y", "type": "quantitative", "scale": {"domain": [-0.135, 3.32], "nice": false, "zero": false},
               "axis": {"title": null, "labels": false, "ticks": false, "values": [0, 0.5, 1, 1.5, 2, 2.5, 3], "gridColor": {"condition": {"test": "datum.value % 1 != 0", "value": "#f3f3f3"}, "value": "#e3e3e3"}}}}},
          {"data": {"name": "fa3"}, "mark": {"type": "area", "color": "#999999", "opacity": 0.4, "interpolate": "monotone"}, "encoding": {"x": {"field": "x", "type": "quantitative"}, "y": {"field": "lo", "type": "quantitative"}, "y2": {"field": "hi"}}},
          {"data": {"name": "fa3"}, "mark": {"type": "line", "color": "#0000ff", "strokeWidth": 1.4}, "encoding": {"x": {"field": "x", "type": "quantitative"}, "y": {"field": "y", "type": "quantitative"}}},
          {"data": {"values": [{"t": ["Rho = -0.121", "p = 7.16e-03"]}]}, "mark": {"type": "text", "color": "#ff2020", "fontSize": 6.5, "align": "right", "baseline": "top", "dx": -1, "dy": 2, "lineHeight": 7}, "encoding": {"x": {"datum": 0.305, "type": "quantitative"}, "y": {"datum": 3.32, "type": "quantitative"}, "text": {"field": "t"}}},
          {"data": {"values": [{"t": "Macrophage M1_CIBERSORT"}]}, "mark": {"type": "rect", "fill": "#d9d9d9", "stroke": "#333333", "strokeWidth": 1}, "encoding": {"x": {"datum": -0.0145, "type": "quantitative"}, "x2": {"datum": 0.305}, "y": {"datum": 3.32, "type": "quantitative"}, "y2": {"datum": 3.676}}},
          {"data": {"values": [{"t": "Macrophage M1_CIBERSORT"}]}, "mark": {"type": "text", "fontSize": 7.5, "color": "#1a1a1a"}, "encoding": {"x": {"datum": 0.14525, "type": "quantitative"}, "y": {"datum": 3.498, "type": "quantitative"}, "text": {"field": "t"}}}
        ]},
        {"width": 126, "height": 136, "layer": [
          {"data": {"name": "a4"}, "mark": {"type": "circle", "size": 8, "color": "#000000", "opacity": 0.7},
           "encoding": {
             "x": {"field": "x", "type": "quantitative", "scale": {"domain": [-0.01, 0.65], "nice": false, "zero": false},
               "axis": {"title": "Infiltration Level", "values": [0, 0.1, 0.2, 0.3, 0.4, 0.5, 0.6], "format": ".1f",
                 "labelExpr": "indexof([0,0.2,0.4,0.6], datum.value) >= 0 ? datum.label : ''",
                 "tickOpacity": {"condition": {"test": "indexof([0,0.2,0.4,0.6], datum.value) < 0", "value": 0}, "value": 1},
                 "gridColor": {"condition": {"test": "indexof([0,0.2,0.4,0.6], datum.value) < 0", "value": "#f3f3f3"}, "value": "#e3e3e3"}}},
             "y": {"field": "y", "type": "quantitative", "scale": {"domain": [-0.135, 3.32], "nice": false, "zero": false},
               "axis": {"title": null, "labels": false, "ticks": false, "values": [0, 0.5, 1, 1.5, 2, 2.5, 3], "gridColor": {"condition": {"test": "datum.value % 1 != 0", "value": "#f3f3f3"}, "value": "#e3e3e3"}}}}},
          {"data": {"name": "fa4"}, "mark": {"type": "area", "color": "#999999", "opacity": 0.4, "interpolate": "monotone"}, "encoding": {"x": {"field": "x", "type": "quantitative"}, "y": {"field": "lo", "type": "quantitative"}, "y2": {"field": "hi"}}},
          {"data": {"name": "fa4"}, "mark": {"type": "line", "color": "#0000ff", "strokeWidth": 1.4}, "encoding": {"x": {"field": "x", "type": "quantitative"}, "y": {"field": "y", "type": "quantitative"}}},
          {"data": {"values": [{"t": ["Rho = 0.125", "p = 5.61e-03"]}]}, "mark": {"type": "text", "color": "#ff2020", "fontSize": 6.5, "align": "right", "baseline": "top", "dx": -1, "dy": 2, "lineHeight": 7}, "encoding": {"x": {"datum": 0.65, "type": "quantitative"}, "y": {"datum": 3.32, "type": "quantitative"}, "text": {"field": "t"}}},
          {"data": {"values": [{"t": "Macrophage M2_CIBERSORT"}]}, "mark": {"type": "rect", "fill": "#d9d9d9", "stroke": "#333333", "strokeWidth": 1}, "encoding": {"x": {"datum": -0.01, "type": "quantitative"}, "x2": {"datum": 0.65}, "y": {"datum": 3.32, "type": "quantitative"}, "y2": {"datum": 3.676}}},
          {"data": {"values": [{"t": "Macrophage M2_CIBERSORT"}]}, "mark": {"type": "text", "fontSize": 7.5, "color": "#1a1a1a"}, "encoding": {"x": {"datum": 0.32, "type": "quantitative"}, "y": {"datum": 3.498, "type": "quantitative"}, "text": {"field": "t"}}}
        ]},
        {"width": 128, "height": 136, "layer": [
          {"data": {"name": "a5"}, "mark": {"type": "circle", "size": 8, "color": "#000000", "opacity": 0.7},
           "encoding": {
             "x": {"field": "x", "type": "quantitative", "scale": {"domain": [-0.012, 0.228], "nice": false, "zero": false},
               "axis": {"title": "Infiltration Level", "values": [0, 0.025, 0.05, 0.075, 0.1, 0.125, 0.15, 0.175, 0.2, 0.225], "format": ".2f",
                 "labelExpr": "indexof([0,0.05,0.1,0.15,0.2], datum.value) >= 0 ? datum.label : ''",
                 "tickOpacity": {"condition": {"test": "indexof([0,0.05,0.1,0.15,0.2], datum.value) < 0", "value": 0}, "value": 1},
                 "gridColor": {"condition": {"test": "indexof([0,0.05,0.1,0.15,0.2], datum.value) < 0", "value": "#f3f3f3"}, "value": "#e3e3e3"}}},
             "y": {"field": "y", "type": "quantitative", "scale": {"domain": [-0.135, 3.32], "nice": false, "zero": false},
               "axis": {"title": null, "labels": false, "ticks": false, "values": [0, 0.5, 1, 1.5, 2, 2.5, 3], "gridColor": {"condition": {"test": "datum.value % 1 != 0", "value": "#f3f3f3"}, "value": "#e3e3e3"}}}}},
          {"data": {"name": "fa5"}, "mark": {"type": "area", "color": "#999999", "opacity": 0.4, "interpolate": "monotone"}, "encoding": {"x": {"field": "x", "type": "quantitative"}, "y": {"field": "lo", "type": "quantitative"}, "y2": {"field": "hi"}}},
          {"data": {"name": "fa5"}, "mark": {"type": "line", "color": "#0000ff", "strokeWidth": 1.4}, "encoding": {"x": {"field": "x", "type": "quantitative"}, "y": {"field": "y", "type": "quantitative"}}},
          {"data": {"values": [{"t": ["Rho = -0.156", "p = 5.07e-04"]}]}, "mark": {"type": "text", "color": "#ff2020", "fontSize": 6.5, "align": "right", "baseline": "top", "dx": -1, "dy": 2, "lineHeight": 7}, "encoding": {"x": {"datum": 0.228, "type": "quantitative"}, "y": {"datum": 3.32, "type": "quantitative"}, "text": {"field": "t"}}},
          {"data": {"values": [{"t": "T cell NK_XCELL"}]}, "mark": {"type": "rect", "fill": "#d9d9d9", "stroke": "#333333", "strokeWidth": 1}, "encoding": {"x": {"datum": -0.012, "type": "quantitative"}, "x2": {"datum": 0.228}, "y": {"datum": 3.32, "type": "quantitative"}, "y2": {"datum": 3.676}}},
          {"data": {"values": [{"t": "T cell NK_XCELL"}]}, "mark": {"type": "text", "fontSize": 7.5, "color": "#1a1a1a"}, "encoding": {"x": {"datum": 0.108, "type": "quantitative"}, "y": {"datum": 3.498, "type": "quantitative"}, "text": {"field": "t"}}}
        ]}
      ]
    },
    {
      "title": {"text": "B", "offset": 6},
      "bounds": "flush",
      "spacing": 2,
      "hconcat": [
        {"width": 130, "height": 139, "layer": [
          {"data": {"name": "b1"}, "mark": {"type": "circle", "size": 8, "color": "#000000", "opacity": 0.7},
           "encoding": {
             "x": {"field": "x", "type": "quantitative", "scale": {"domain": [-0.0369, 1.03], "nice": false, "zero": false},
               "axis": {"title": "Purity", "values": [0.125, 0.25, 0.375, 0.5, 0.625, 0.75, 0.875, 1], "format": ".2f",
                 "labelExpr": "indexof([0.25,0.5,0.75,1], datum.value) >= 0 ? datum.label : ''",
                 "tickOpacity": {"condition": {"test": "indexof([0.25,0.5,0.75,1], datum.value) < 0", "value": 0}, "value": 1},
                 "gridColor": {"condition": {"test": "indexof([0.25,0.5,0.75,1], datum.value) < 0", "value": "#f3f3f3"}, "value": "#e3e3e3"}}},
             "y": {"field": "y", "type": "quantitative", "scale": {"domain": [-0.26, 5.16], "nice": false, "zero": false},
               "axis": {"title": "CX3CR1 Expression Level (log2 TPM)", "titleFontSize": 9.8, "values": [0, 0.5, 1, 1.5, 2, 2.5, 3, 3.5, 4, 4.5, 5],
                 "labelExpr": "datum.value % 1 == 0 ? datum.label : ''", "offset": 3, "tickSize": 3.5, "minExtent": 0, "maxExtent": 12, "titlePadding": 0.5,
                 "tickOpacity": {"condition": {"test": "datum.value % 1 != 0", "value": 0}, "value": 1},
                 "gridColor": {"condition": {"test": "datum.value % 1 != 0", "value": "#f3f3f3"}, "value": "#e3e3e3"}}}}},
          {"data": {"name": "fb1"}, "mark": {"type": "area", "color": "#999999", "opacity": 0.4, "interpolate": "monotone"}, "encoding": {"x": {"field": "x", "type": "quantitative"}, "y": {"field": "lo", "type": "quantitative"}, "y2": {"field": "hi"}}},
          {"data": {"name": "fb1"}, "mark": {"type": "line", "color": "#0000ff", "strokeWidth": 1.4}, "encoding": {"x": {"field": "x", "type": "quantitative"}, "y": {"field": "y", "type": "quantitative"}}},
          {"data": {"values": [{"t": ["Rho = -0.205", "p = 4.16e-06"]}]}, "mark": {"type": "text", "color": "#ff2020", "fontSize": 6.5, "align": "right", "baseline": "top", "dx": -1, "dy": 3, "lineHeight": 7}, "encoding": {"x": {"datum": 1.03, "type": "quantitative"}, "y": {"datum": 5.16, "type": "quantitative"}, "text": {"field": "t"}}},
          {"data": {"values": [{"t": "LUAD"}]}, "mark": {"type": "rect", "fill": "#d9d9d9", "stroke": "#333333", "strokeWidth": 1}, "encoding": {"x": {"datum": -0.0369, "type": "quantitative"}, "x2": {"datum": 0.037}, "y": {"datum": -0.26, "type": "quantitative"}, "y2": {"datum": 5.16}}},
          {"data": {"values": [{"t": "LUAD"}]}, "mark": {"type": "text", "angle": 270, "fontSize": 7.5, "color": "#1a1a1a"}, "encoding": {"x": {"datum": 0.0, "type": "quantitative"}, "y": {"datum": 2.45, "type": "quantitative"}, "text": {"field": "t"}}},
          {"data": {"values": [{"t": "Purity"}]}, "mark": {"type": "rect", "fill": "#d9d9d9", "stroke": "#333333", "strokeWidth": 1}, "encoding": {"x": {"datum": 0.037, "type": "quantitative"}, "x2": {"datum": 1.03}, "y": {"datum": 5.16, "type": "quantitative"}, "y2": {"datum": 5.706}}},
          {"data": {"values": [{"t": "Purity"}]}, "mark": {"type": "text", "fontSize": 7.5, "color": "#1a1a1a"}, "encoding": {"x": {"datum": 0.5335, "type": "quantitative"}, "y": {"datum": 5.433, "type": "quantitative"}, "text": {"field": "t"}}}
        ]},
        {"width": 124, "height": 139, "layer": [
          {"data": {"name": "b2"}, "mark": {"type": "circle", "size": 8, "color": "#000000", "opacity": 0.7},
           "encoding": {
             "x": {"field": "x", "type": "quantitative", "scale": {"domain": [-0.023, 0.572], "nice": false, "zero": false},
               "axis": {"title": "Infiltration Level", "values": [0, 0.1, 0.2, 0.3, 0.4, 0.5], "format": ".1f",
                 "labelExpr": "indexof([0,0.2,0.4], datum.value) >= 0 ? datum.label : ''",
                 "tickOpacity": {"condition": {"test": "indexof([0,0.2,0.4], datum.value) < 0", "value": 0}, "value": 1},
                 "gridColor": {"condition": {"test": "indexof([0,0.2,0.4], datum.value) < 0", "value": "#f3f3f3"}, "value": "#e3e3e3"}}},
             "y": {"field": "y", "type": "quantitative", "scale": {"domain": [-0.26, 5.16], "nice": false, "zero": false},
               "axis": {"title": null, "labels": false, "ticks": false, "values": [0, 0.5, 1, 1.5, 2, 2.5, 3, 3.5, 4, 4.5, 5], "gridColor": {"condition": {"test": "datum.value % 1 != 0", "value": "#f3f3f3"}, "value": "#e3e3e3"}}}}},
          {"data": {"name": "fb2"}, "mark": {"type": "area", "color": "#999999", "opacity": 0.4, "interpolate": "monotone"}, "encoding": {"x": {"field": "x", "type": "quantitative"}, "y": {"field": "lo", "type": "quantitative"}, "y2": {"field": "hi"}}},
          {"data": {"name": "fb2"}, "mark": {"type": "line", "color": "#0000ff", "strokeWidth": 1.4}, "encoding": {"x": {"field": "x", "type": "quantitative"}, "y": {"field": "y", "type": "quantitative"}}},
          {"data": {"values": [{"t": ["Rho = -0.257", "p = 7.51e-09"]}]}, "mark": {"type": "text", "color": "#ff2020", "fontSize": 6.5, "align": "right", "baseline": "top", "dx": -1, "dy": 3, "lineHeight": 7}, "encoding": {"x": {"datum": 0.572, "type": "quantitative"}, "y": {"datum": 5.16, "type": "quantitative"}, "text": {"field": "t"}}},
          {"data": {"values": [{"t": "Macrophage M0_CIBERSORT"}]}, "mark": {"type": "rect", "fill": "#d9d9d9", "stroke": "#333333", "strokeWidth": 1}, "encoding": {"x": {"datum": -0.023, "type": "quantitative"}, "x2": {"datum": 0.572}, "y": {"datum": 5.16, "type": "quantitative"}, "y2": {"datum": 5.706}}},
          {"data": {"values": [{"t": "Macrophage M0_CIBERSORT"}]}, "mark": {"type": "text", "fontSize": 7.5, "color": "#1a1a1a"}, "encoding": {"x": {"datum": 0.2745, "type": "quantitative"}, "y": {"datum": 5.433, "type": "quantitative"}, "text": {"field": "t"}}}
        ]},
        {"width": 125, "height": 139, "layer": [
          {"data": {"name": "b3"}, "mark": {"type": "circle", "size": 8, "color": "#000000", "opacity": 0.7},
           "encoding": {
             "x": {"field": "x", "type": "quantitative", "scale": {"domain": [-0.015, 0.306], "nice": false, "zero": false},
               "axis": {"title": "Infiltration Level", "values": [0, 0.05, 0.1, 0.15, 0.2, 0.25, 0.3], "format": ".1f",
                 "labelExpr": "indexof([0,0.1,0.2,0.3], datum.value) >= 0 ? datum.label : ''",
                 "tickOpacity": {"condition": {"test": "indexof([0,0.1,0.2,0.3], datum.value) < 0", "value": 0}, "value": 1},
                 "gridColor": {"condition": {"test": "indexof([0,0.1,0.2,0.3], datum.value) < 0", "value": "#f3f3f3"}, "value": "#e3e3e3"}}},
             "y": {"field": "y", "type": "quantitative", "scale": {"domain": [-0.26, 5.16], "nice": false, "zero": false},
               "axis": {"title": null, "labels": false, "ticks": false, "values": [0, 0.5, 1, 1.5, 2, 2.5, 3, 3.5, 4, 4.5, 5], "gridColor": {"condition": {"test": "datum.value % 1 != 0", "value": "#f3f3f3"}, "value": "#e3e3e3"}}}}},
          {"data": {"name": "fb3"}, "mark": {"type": "area", "color": "#999999", "opacity": 0.4, "interpolate": "monotone"}, "encoding": {"x": {"field": "x", "type": "quantitative"}, "y": {"field": "lo", "type": "quantitative"}, "y2": {"field": "hi"}}},
          {"data": {"name": "fb3"}, "mark": {"type": "line", "color": "#0000ff", "strokeWidth": 1.4}, "encoding": {"x": {"field": "x", "type": "quantitative"}, "y": {"field": "y", "type": "quantitative"}}},
          {"data": {"values": [{"t": ["Rho = -0.105", "p = 1.96e-02"]}]}, "mark": {"type": "text", "color": "#ff2020", "fontSize": 6.5, "align": "right", "baseline": "top", "dx": -1, "dy": 3, "lineHeight": 7}, "encoding": {"x": {"datum": 0.306, "type": "quantitative"}, "y": {"datum": 5.16, "type": "quantitative"}, "text": {"field": "t"}}},
          {"data": {"values": [{"t": "Macrophage M1_CIBERSORT"}]}, "mark": {"type": "rect", "fill": "#d9d9d9", "stroke": "#333333", "strokeWidth": 1}, "encoding": {"x": {"datum": -0.015, "type": "quantitative"}, "x2": {"datum": 0.306}, "y": {"datum": 5.16, "type": "quantitative"}, "y2": {"datum": 5.706}}},
          {"data": {"values": [{"t": "Macrophage M1_CIBERSORT"}]}, "mark": {"type": "text", "fontSize": 7.5, "color": "#1a1a1a"}, "encoding": {"x": {"datum": 0.1455, "type": "quantitative"}, "y": {"datum": 5.433, "type": "quantitative"}, "text": {"field": "t"}}}
        ]},
        {"width": 124, "height": 139, "layer": [
          {"data": {"name": "b4"}, "mark": {"type": "circle", "size": 8, "color": "#000000", "opacity": 0.7},
           "encoding": {
             "x": {"field": "x", "type": "quantitative", "scale": {"domain": [-0.009, 0.649], "nice": false, "zero": false},
               "axis": {"title": "Infiltration Level", "values": [0, 0.1, 0.2, 0.3, 0.4, 0.5, 0.6], "format": ".1f",
                 "labelExpr": "indexof([0,0.2,0.4,0.6], datum.value) >= 0 ? datum.label : ''",
                 "tickOpacity": {"condition": {"test": "indexof([0,0.2,0.4,0.6], datum.value) < 0", "value": 0}, "value": 1},
                 "gridColor": {"condition": {"test": "indexof([0,0.2,0.4,0.6], datum.value) < 0", "value": "#f3f3f3"}, "value": "#e3e3e3"}}},
             "y": {"field": "y", "type": "quantitative", "scale": {"domain": [-0.26, 5.16], "nice": false, "zero": false},
               "axis": {"title": null, "labels": false, "ticks": false, "values": [0, 0.5, 1, 1.5, 2, 2.5, 3, 3.5, 4, 4.5, 5], "gridColor": {"condition": {"test": "datum.value % 1 != 0", "value": "#f3f3f3"}, "value": "#e3e3e3"}}}}},
          {"data": {"name": "fb4"}, "mark": {"type": "area", "color": "#999999", "opacity": 0.4, "interpolate": "monotone"}, "encoding": {"x": {"field": "x", "type": "quantitative"}, "y": {"field": "lo", "type": "quantitative"}, "y2": {"field": "hi"}}},
          {"data": {"name": "fb4"}, "mark": {"type": "line", "color": "#0000ff", "strokeWidth": 1.4}, "encoding": {"x": {"field": "x", "type": "quantitative"}, "y": {"field": "y", "type": "quantitative"}}},
          {"data": {"values": [{"t": ["Rho = 0.333", "p = 3.15e-14"]}]}, "mark": {"type": "text", "color": "#ff2020", "fontSize": 6.5, "align": "right", "baseline": "top", "dx": -1, "dy": 3, "lineHeight": 7}, "encoding": {"x": {"datum": 0.649, "type": "quantitative"}, "y": {"datum": 5.16, "type": "quantitative"}, "text": {"field": "t"}}},
          {"data": {"values": [{"t": "Macrophage M2_CIBERSORT"}]}, "mark": {"type": "rect", "fill": "#d9d9d9", "stroke": "#333333", "strokeWidth": 1}, "encoding": {"x": {"datum": -0.009, "type": "quantitative"}, "x2": {"datum": 0.649}, "y": {"datum": 5.16, "type": "quantitative"}, "y2": {"datum": 5.706}}},
          {"data": {"values": [{"t": "Macrophage M2_CIBERSORT"}]}, "mark": {"type": "text", "fontSize": 7.5, "color": "#1a1a1a"}, "encoding": {"x": {"datum": 0.32, "type": "quantitative"}, "y": {"datum": 5.433, "type": "quantitative"}, "text": {"field": "t"}}}
        ]},
        {"width": 126, "height": 139, "layer": [
          {"data": {"name": "b5"}, "mark": {"type": "circle", "size": 8, "color": "#000000", "opacity": 0.7},
           "encoding": {
             "x": {"field": "x", "type": "quantitative", "scale": {"domain": [-0.011, 0.232], "nice": false, "zero": false},
               "axis": {"title": "Infiltration Level", "values": [0, 0.025, 0.05, 0.075, 0.1, 0.125, 0.15, 0.175, 0.2, 0.225], "format": ".2f",
                 "labelExpr": "indexof([0,0.05,0.1,0.15,0.2], datum.value) >= 0 ? datum.label : ''",
                 "tickOpacity": {"condition": {"test": "indexof([0,0.05,0.1,0.15,0.2], datum.value) < 0", "value": 0}, "value": 1},
                 "gridColor": {"condition": {"test": "indexof([0,0.05,0.1,0.15,0.2], datum.value) < 0", "value": "#f3f3f3"}, "value": "#e3e3e3"}}},
             "y": {"field": "y", "type": "quantitative", "scale": {"domain": [-0.26, 5.16], "nice": false, "zero": false},
               "axis": {"title": null, "labels": false, "ticks": false, "values": [0, 0.5, 1, 1.5, 2, 2.5, 3, 3.5, 4, 4.5, 5], "gridColor": {"condition": {"test": "datum.value % 1 != 0", "value": "#f3f3f3"}, "value": "#e3e3e3"}}}}},
          {"data": {"name": "fb5"}, "mark": {"type": "area", "color": "#999999", "opacity": 0.4, "interpolate": "monotone"}, "encoding": {"x": {"field": "x", "type": "quantitative"}, "y": {"field": "lo", "type": "quantitative"}, "y2": {"field": "hi"}}},
          {"data": {"name": "fb5"}, "mark": {"type": "line", "color": "#0000ff", "strokeWidth": 1.4}, "encoding": {"x": {"field": "x", "type": "quantitative"}, "y": {"field": "y", "type": "quantitative"}}},
          {"data": {"values": [{"t": ["Rho = 0.357", "p = 2.78e-16"]}]}, "mark": {"type": "text", "color": "#ff2020", "fontSize": 6.5, "align": "right", "baseline": "top", "dx": -1, "dy": 3, "lineHeight": 7}, "encoding": {"x": {"datum": 0.232, "type": "quantitative"}, "y": {"datum": 5.16, "type": "quantitative"}, "text": {"field": "t"}}},
          {"data": {"values": [{"t": "T cell NK_XCELL"}]}, "mark": {"type": "rect", "fill": "#d9d9d9", "stroke": "#333333", "strokeWidth": 1}, "encoding": {"x": {"datum": -0.011, "type": "quantitative"}, "x2": {"datum": 0.232}, "y": {"datum": 5.16, "type": "quantitative"}, "y2": {"datum": 5.706}}},
          {"data": {"values": [{"t": "T cell NK_XCELL"}]}, "mark": {"type": "text", "fontSize": 7.5, "color": "#1a1a1a"}, "encoding": {"x": {"datum": 0.1105, "type": "quantitative"}, "y": {"datum": 5.433, "type": "quantitative"}, "text": {"field": "t"}}}
        ]}
      ]
    }
  ]
}
